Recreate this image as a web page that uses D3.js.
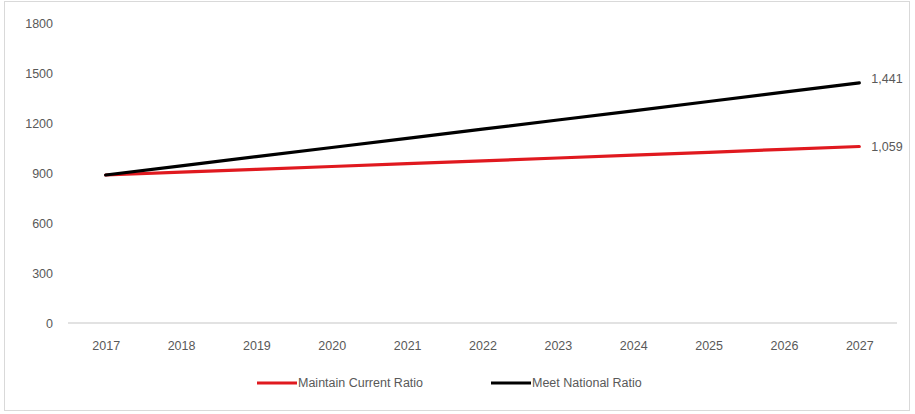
<!DOCTYPE html>
<html>
<head>
<meta charset="utf-8">
<script src="https://cdn.jsdelivr.net/npm/d3@7/dist/d3.min.js"></script>
<style>
  body { margin: 0; background: #fff; }
  text { font-family: "Liberation Sans", "DejaVu Sans", sans-serif; fill: #595959; }
</style>
</head>
<body>
<svg width="915" height="414"></svg>
<script>
// data
var years = ["2017", "2018", "2019", "2020", "2021", "2022", "2023", "2024", "2025", "2026", "2027"];
var maintainCurrent = [888, 905, 922, 939, 956, 973, 990, 1007, 1024, 1042, 1059];
var meetNational = [888, 943, 998, 1053, 1108, 1163, 1218, 1273, 1329, 1385, 1441];
var yTicks = [0, 300, 600, 900, 1200, 1500, 1800];
var seriesNames = ["Maintain Current Ratio", "Meet National Ratio"];
var seriesColors = ["#e0191f", "#000000"];

var svg = d3.select("svg");

// outer frame
svg.append("rect")
    .attr("x", 4.5).attr("y", 1.5)
    .attr("width", 905).attr("height", 409)
    .attr("fill", "none")
    .attr("stroke", "#d9d9d9");

var x = d3.scalePoint().domain(years).range([68, 897]).padding(0.5);
var y = d3.scaleLinear().domain([0, 1800]).range([323, 23]);

// y axis labels (no axis line)
var yAxis = svg.append("g")
    .attr("transform", "translate(60,0)")
    .call(d3.axisLeft(y).tickValues(yTicks).tickFormat(d3.format("d")).tickSize(0).tickPadding(7));
yAxis.select(".domain").remove();
yAxis.selectAll("text").attr("font-size", 12.5).attr("font-family", null);

// x axis
var xAxis = svg.append("g")
    .attr("transform", "translate(0,323)")
    .call(d3.axisBottom(x).tickSize(0).tickPadding(18));
xAxis.select(".domain")
    .attr("d", "M68,0H897")
    .attr("stroke", "#d9d9d9")
    .attr("stroke-width", 1.5);
xAxis.selectAll("text").attr("font-size", 12.5).attr("font-family", null);

var line = d3.line()
    .x(function (d, i) { return x(years[i]); })
    .y(function (d) { return y(d); });

var series = [maintainCurrent, meetNational];
series.forEach(function (s, k) {
    svg.append("path")
        .datum(s)
        .attr("d", line)
        .attr("fill", "none")
        .attr("stroke", seriesColors[k])
        .attr("stroke-width", 3.2)
        .attr("stroke-linecap", "round");

    // end label
    var last = s[s.length - 1];
    svg.append("text")
        .attr("x", x(years[years.length - 1]) + 12)
        .attr("y", y(last) - (k == 1 ? 4 : 0))
        .attr("dy", "0.35em")
        .attr("font-size", 12.5)
        .text(d3.format(",")(last));
});

// legend
var legendX = [257, 491];
seriesNames.forEach(function (name, k) {
    var g = svg.append("g").attr("transform", "translate(" + legendX[k] + ",383)");
    g.append("line")
        .attr("x1", 0).attr("x2", 40)
        .attr("stroke", seriesColors[k])
        .attr("stroke-width", 3.2);
    g.append("text")
        .attr("x", 41)
        .attr("dy", "0.35em")
        .attr("font-size", 12.5)
        .text(name);
});
</script>
</body>
</html>
